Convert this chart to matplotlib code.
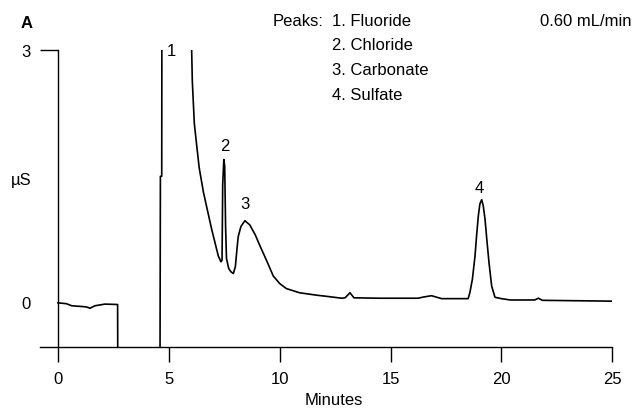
import numpy as np
import matplotlib.pyplot as plt

plt.rcParams['font.family'] = ['Liberation Sans Narrow', 'Liberation Sans', 'DejaVu Sans']

# conductivity trace (minutes, uS)
time_min = [0.00, 0.38, 0.62, 1.14, 1.30, 1.44, 1.67, 2.12, 2.69, 2.70,
            4.60, 4.62, 4.68, 4.69, 6.02, 6.03, 6.06, 6.15, 6.26, 6.37,
            6.56, 6.93, 7.23, 7.35, 7.40, 7.43, 7.48, 7.52, 7.56, 7.60,
            7.70, 7.80, 7.91, 8.00, 8.08, 8.13, 8.25, 8.43, 8.65, 8.90,
            9.11, 9.40, 9.71, 10.00, 10.30, 10.90, 11.70, 12.04, 12.80, 12.95,
            13.17, 13.35, 14.50, 14.75, 16.24, 16.50, 16.85, 17.30, 18.50, 18.58,
            18.69, 18.81, 18.88, 18.96, 19.03, 19.11, 19.18, 19.26, 19.34, 19.44,
            19.56, 19.71, 20.00, 20.40, 21.50, 21.67, 21.85, 25.00]
signal_us = [-0.01, -0.02, -0.045, -0.055, -0.06, -0.075, -0.045, -0.025, -0.03, -1.0,
             -1.0, 1.50, 1.50, 4.0, 4.0, 3.00, 2.63, 2.13, 1.86, 1.60,
             1.31, 0.87, 0.55, 0.48, 0.50, 1.40, 1.70, 1.62, 0.90, 0.52,
             0.40, 0.36, 0.34, 0.42, 0.65, 0.78, 0.90, 0.97, 0.92, 0.80,
             0.67, 0.50, 0.31, 0.22, 0.16, 0.11, 0.08, 0.07, 0.045, 0.05,
             0.11, 0.05, 0.045, 0.045, 0.045, 0.06, 0.075, 0.04, 0.04, 0.115,
             0.27, 0.55, 0.79, 1.03, 1.17, 1.22, 1.15, 0.99, 0.75, 0.47,
             0.19, 0.056, 0.04, 0.024, 0.024, 0.045, 0.02, 0.01]

peak_ids = ['1', '2', '3', '4']
peak_names = ['Fluoride', 'Chloride', 'Carbonate', 'Sulfate']
peak_label_x = [5.13, 7.53, 8.43, 19.0]
peak_label_y = [3.0, 1.865, 1.17, 1.37]

x_ticks = [0, 5, 10, 15, 20, 25]
y_ticks = [0, 3]

fig = plt.figure(figsize=(6.36, 4.10), dpi=100)
ax = fig.add_axes([0.0629, 0.152, 0.8998, 0.7224])

ax.plot(time_min, signal_us, color='black', lw=1.2)

ax.set_xlim(-0.81, 25)
ax.set_ylim(-0.533, 3.0)

for side in ['top', 'right']:
    ax.spines[side].set_visible(False)
ax.spines['left'].set_position(('data', 0))
ax.spines['left'].set_linewidth(1.0)
ax.spines['bottom'].set_linewidth(1.0)

ax.set_xticks(x_ticks)
ax.set_yticks(y_ticks)
ax.tick_params(axis='x', direction='out', length=11, width=1.0, pad=6.5, labelsize=12, colors='black')
ax.tick_params(axis='y', direction='out', length=13, width=1.0, pad=7, labelsize=12, colors='black')
ax.yaxis.get_major_ticks()[0].tick1line.set_visible(False)

# axis captions
fig.text(334 / 636, 1 - 401 / 410, 'Minutes', fontsize=12, ha='center', va='center')
ax.text(-0.014, 0.566, 'µS', transform=ax.transAxes, fontsize=12, ha='right', va='center')

for pid, px, py in zip(peak_ids, peak_label_x, peak_label_y):
    ax.text(px, py, pid, fontsize=12, ha='center', va='center', clip_on=False)

fig.text(27 / 636, 1 - 23 / 410, 'A', fontsize=12, fontweight='bold', ha='center', va='center')
fig.text(273 / 636, 1 - 21.5 / 410, 'Peaks:', fontsize=12, ha='left', va='center')
for i, (pid, name) in enumerate(zip(peak_ids, peak_names)):
    fig.text(331.7 / 636, 1 - (21.5 + 24.5 * i) / 410, pid + '. ' + name,
             fontsize=12, ha='left', va='center')
fig.text(631.7 / 636, 1 - 21.5 / 410, '0.60 mL/min', fontsize=12, ha='right', va='center')

fig.savefig('out.png', dpi=100)
